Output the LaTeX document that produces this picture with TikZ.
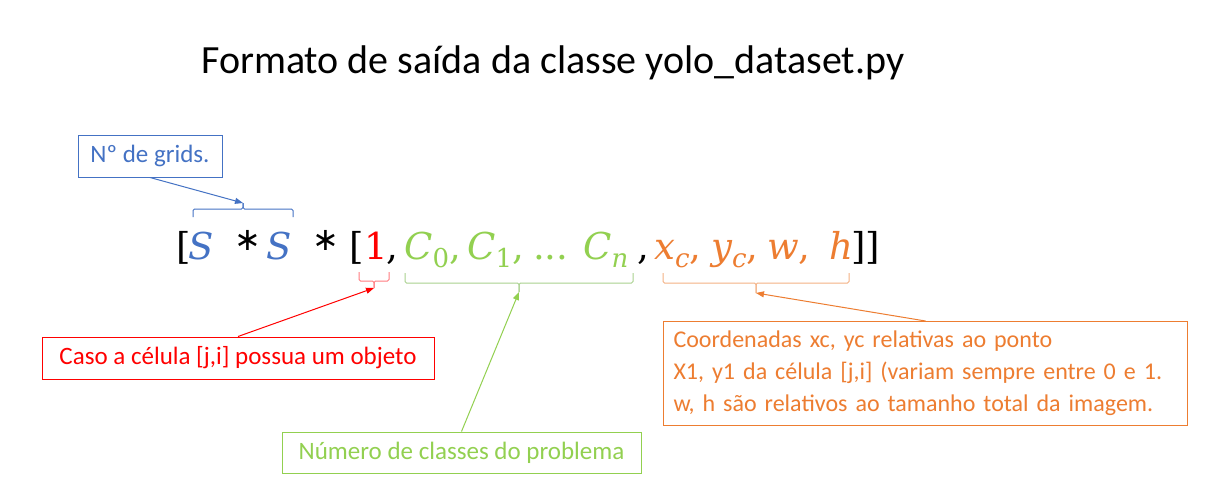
\documentclass[tikz,border=0pt]{standalone}
\usepackage{fontspec}
\setmainfont{Carlito}
\newfontfamily\fmlfont{DejaVu Serif}
\newfontfamily\starfont{DejaVu Sans}
\usetikzlibrary{arrows.meta}
\definecolor{cblue}{HTML}{4472C4}
\definecolor{cred}{HTML}{FF0000}
\definecolor{cgreen}{HTML}{92D050}
\definecolor{corange}{HTML}{ED7D31}
\definecolor{bred}{HTML}{FF7C80}
\definecolor{bgreen}{HTML}{A9D18E}
\definecolor{borange}{HTML}{F4B183}
\newcommand{\sbs}[1]{\raisebox{-8pt}{\fontsize{26}{28}\selectfont\upshape #1}}
\tikzset{
  fm/.style={inner sep=0pt, anchor=base west, font=\fmlfont\itshape\fontsize{37}{44}\selectfont},
  fmu/.style={inner sep=0pt, anchor=base west, font=\fmlfont\upshape\fontsize{37}{44}\selectfont},
  fms/.style={inner sep=0pt, anchor=center, font=\starfont\fontsize{32}{36}\selectfont},
  lbl/.style={draw, line width=1pt, inner sep=0pt, font=\fontsize{25}{30}\selectfont},
  bracepath/.style={line width=1pt, rounded corners=1.5pt},
  arr/.style={line width=1pt, -{Triangle[length=8pt,width=6pt]}},
}
\begin{document}
\begin{tikzpicture}[x=1pt,y=-1pt]
\useasboundingbox[fill=white] (0,0) rectangle (1207,487);

\node[inner sep=0pt, anchor=base west, font=\fontsize{40}{48}\selectfont] (title) at (201,74) {Formato de saída da classe yolo\_dataset.py};

% formula
\node[fmu] (lb1) at (176,259) {[};
\node[fm, text=cblue] (s1) at (188,259) {S};
\node[fms] (st1) at (248,240) {∗};
\node[fm, text=cblue] (s2) at (266,259) {S};
\node[fms] (st2) at (326,240) {∗};
\node[fmu] (lb2) at (349,259) {[};
\node[fmu, text=cred] (one) at (364,259) {1};
\node[fmu] (cm1) at (386,259) {,};
\node[fm, text=cgreen] (c0) at (404,259) {C\sbs{0}\upshape,};
\node[fm, text=cgreen] (c1) at (467,259) {C\sbs{1}\upshape,};
\node[fmu, text=cgreen] (dots) at (533,259) {...};
\node[fm, text=cgreen] (cn) at (583,259) {C\sbs{\itshape n}};
\node[fmu] (cm2) at (637,259) {,};
\node[fm, text=corange] (xc) at (654,259) {x\sbs{\itshape c}\upshape,};
\node[fm, text=corange] (yc) at (711,259) {y\sbs{\itshape c}\upshape,};
\node[fm, text=corange] (w) at (767,259) {w\upshape,};
\node[fm, text=corange] (h) at (829,259) {h};
\node[fmu] (rb) at (851,259) {]]};

% braces
\coordinate (tipS) at (243,203);
\draw[bracepath, cblue] (193,217) -- (193,209) -- (243,209) -- (tipS);
\draw[bracepath, cblue] (tipS) -- (243,209) -- (293,209) -- (293,217);

\coordinate (tipR) at (374,288);
\draw[bracepath, bred] (359,272) -- (359,281) -- (374,281) -- (tipR);
\draw[bracepath, bred] (tipR) -- (374,281) -- (389,281) -- (389,272);

\coordinate (tipG) at (519,292);
\draw[bracepath, bgreen] (405,273) -- (405,283) -- (519,283) -- (tipG);
\draw[bracepath, bgreen] (tipG) -- (519,283) -- (633,283) -- (633,273);

\coordinate (tipO) at (756,293);
\draw[bracepath, borange] (663,273) -- (663,283) -- (756,283) -- (tipO);
\draw[bracepath, borange] (tipO) -- (756,283) -- (849,283) -- (849,273);

% label boxes
\node[lbl, cblue, minimum width=144, minimum height=42] (blue) at (150,156) {Nº de grids.};
\node[lbl, cred, minimum width=392, minimum height=42] (red) at (238,358) {Caso a célula [j,i] possua um objeto};
\node[lbl, cgreen, minimum width=359, minimum height=41] (green) at (461.5,452.5) {Número de classes do problema};
\node[lbl, corange, anchor=north west, minimum width=524, minimum height=104, inner xsep=10pt, text width=504, align=left, font=\fontsize{24}{32}\selectfont] (orange) at (663,321) {Coordenadas xc, yc relativas ao ponto\\X1, y1 da célula [j,i] (variam sempre entre 0 e 1.\\w, h são relativos ao tamanho total da imagem.};

% arrows
\draw[arr, cblue] (blue.south) -- (tipS);
\draw[arr, cred] (red.north) -- (tipR);
\draw[arr, cgreen] (green.north) -- (tipG);
\draw[arr, corange] (orange.north) -- (tipO);
\end{tikzpicture}
\end{document}
